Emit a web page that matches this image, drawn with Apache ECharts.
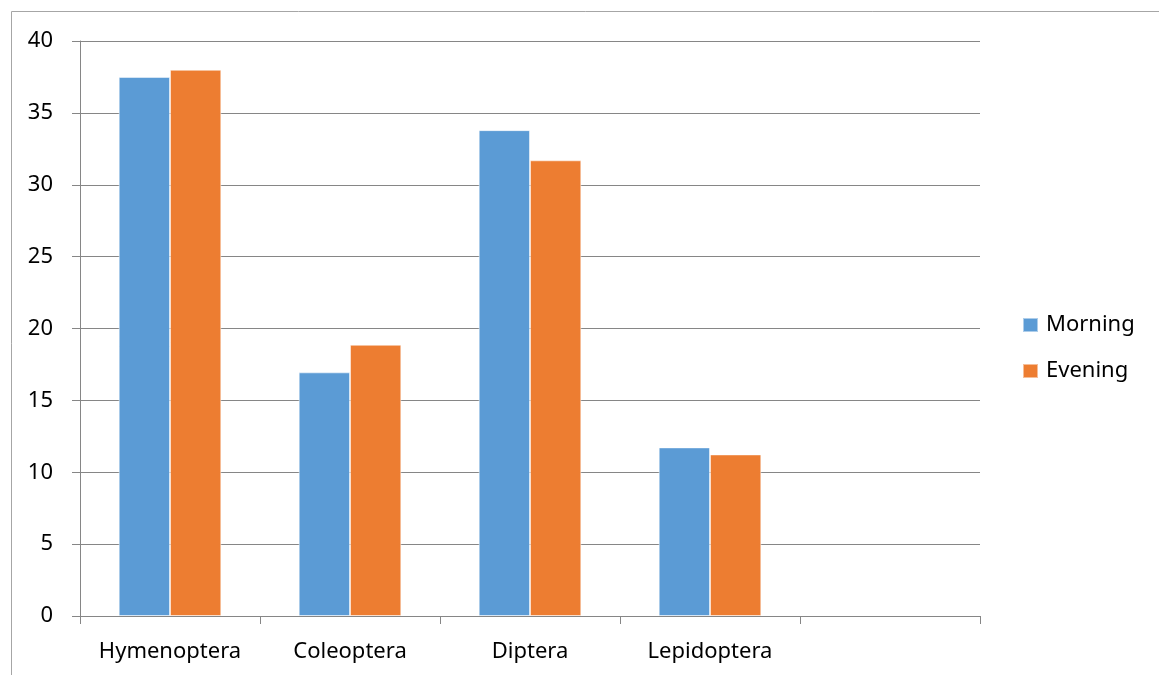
<!DOCTYPE html>
<html>
<head>
<meta charset="utf-8">
<style>
  html, body { margin: 0; padding: 0; background: #ffffff; }
  #chart { width: 1159px; height: 675px; }
</style>
<script src="https://cdn.jsdelivr.net/npm/echarts@6/dist/echarts.min.js"></script>
</head>
<body>
<div id="chart"></div>
<script>
// Insect orders counted, with an empty trailing slot on the axis
const categories = ['Hymenoptera', 'Coleoptera', 'Diptera', 'Lepidoptera', ''];
const morning = [37.5, 16.95, 33.8, 11.73, null];
const evening = [38.0, 18.87, 31.7, 11.24, null];
const seriesNames = ['Morning', 'Evening'];

const FONT = 'Noto Sans';
const GRID_COLOR = '#868686';
const FRAME_COLOR = '#a6a6a6';

const chart = echarts.init(document.getElementById('chart'), null, { renderer: 'canvas' });

chart.setOption({
  backgroundColor: '#ffffff',
  animation: false,
  textStyle: { fontFamily: FONT },
  grid: { left: 80, right: 179, top: 41, bottom: 59, containLabel: false },
  legend: {
    orient: 'vertical',
    left: 1017,
    top: 309,
    padding: 5,
    icon: 'rect',
    itemWidth: 15,
    itemHeight: 14,
    itemGap: 24,
    data: seriesNames,
    textStyle: { fontFamily: FONT, fontSize: 22, color: '#000000', padding: [0, 0, 0, 3] }
  },
  xAxis: {
    type: 'category',
    data: categories,
    axisLine: { lineStyle: { color: GRID_COLOR, width: 1 } },
    axisTick: { show: true, length: 8, interval: 0, alignWithLabel: false, lineStyle: { color: GRID_COLOR } },
    axisLabel: { interval: 0, margin: 25, fontFamily: FONT, fontSize: 22, color: '#000000' },
    splitLine: { show: false }
  },
  yAxis: {
    type: 'value',
    min: 0,
    max: 40,
    interval: 5,
    axisLine: { show: true, lineStyle: { color: GRID_COLOR, width: 1 } },
    axisTick: { show: true, length: 8, lineStyle: { color: GRID_COLOR } },
    axisLabel: { margin: 27, fontFamily: FONT, fontSize: 22, color: '#000000' },
    splitLine: { show: true, lineStyle: { color: GRID_COLOR, width: 1 } }
  },
  series: [
    {
      name: seriesNames[0],
      type: 'bar',
      data: morning,
      barGap: '0%',
      barCategoryGap: '43%',
      itemStyle: { color: '#5B9BD5', borderColor: 'rgba(255,255,255,0.5)', borderWidth: 1 }
    },
    {
      name: seriesNames[1],
      type: 'bar',
      data: evening,
      barGap: '0%',
      barCategoryGap: '43%',
      itemStyle: { color: '#ED7D31', borderColor: 'rgba(255,255,255,0.5)', borderWidth: 1 }
    }
  ],
  graphic: [
    // outer chart-area frame: only the top and left edges are in view
    { type: 'line', shape: { x1: 11.5, y1: 11.5, x2: 1159, y2: 11.5 }, style: { stroke: FRAME_COLOR, lineWidth: 1 }, silent: true },
    { type: 'line', shape: { x1: 11.5, y1: 11.5, x2: 11.5, y2: 675 }, style: { stroke: FRAME_COLOR, lineWidth: 1 }, silent: true }
  ]
});
</script>
</body>
</html>
